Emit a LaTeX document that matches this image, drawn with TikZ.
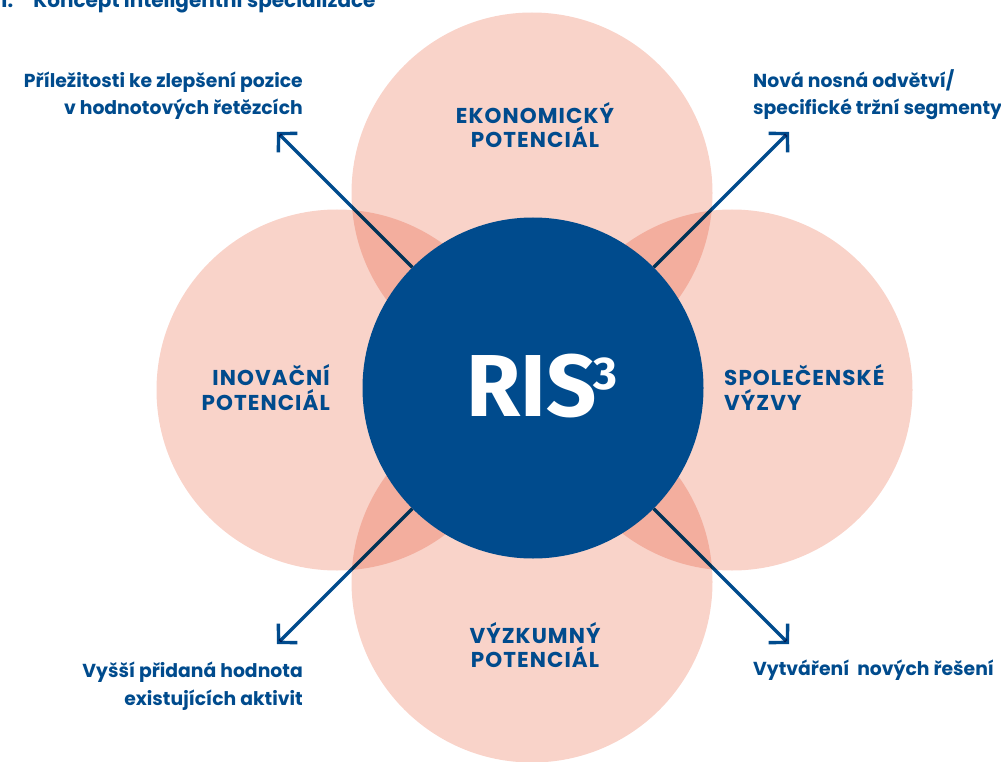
\documentclass[tikz,border=0pt]{standalone}
\usepackage{fontspec}
\setmainfont{Poppins}
\newfontfamily\risfont{Fira Sans}
\usetikzlibrary{arrows.meta}
\definecolor{navy}{HTML}{004B8D}
\definecolor{pinkc}{HTML}{F9D3C9}
\begin{document}
\begin{tikzpicture}[x=1pt,y=-1pt,
  petal/.style={circle, fill=pinkc, minimum size=361pt, inner sep=0pt},
  lbl/.style={text=navy, font=\bfseries\fontsize{18.8}{27}\selectfont, inner sep=0pt},
  caplbl/.style={text=navy, font=\bfseries\fontsize{21.5}{24}\selectfont\addfontfeature{LetterSpace=5}, inner sep=0pt},
  arrowline/.style={draw=navy, line width=3.4pt,
    -{Straight Barb[length=13pt, width=27pt, sharp]}}]
\useasboundingbox (0,0) rectangle (1001,762);
% title (cut by the page top)
\node[lbl, font=\bfseries\fontsize{20}{24}\selectfont, anchor=base west] (title) at (0,8) {1.\hspace{20pt}Koncept inteligentní specializace};
% petals
\begin{scope}[blend mode=multiply]
\node[petal] (top) at (532,193) {};
\node[petal] (bottom) at (532,582) {};
\node[petal] (left) at (337,390) {};
\node[petal] (right) at (732,390) {};
\end{scope}
% centre
\node[circle, fill=navy, minimum size=341pt, inner sep=0pt] (ris) at (533,388) {};
\node[text=white, inner sep=0pt, anchor=base west,
  font=\risfont\bfseries\fontsize{88}{88}\selectfont] (ristext) at (466,416)
  {RIS\hspace{-3pt}\raisebox{27pt}{\fontsize{46}{46}\selectfont 3}};
% arrow tips
\coordinate (tl) at (277,132);
\coordinate (tr) at (789,132);
\coordinate (bl) at (277,644);
\coordinate (br) at (789,644);
\begin{scope}[blend mode=multiply]
\draw[arrowline] (ris.135) -- (tl);
\draw[arrowline] (ris.45) -- (tr);
\draw[arrowline] (ris.225) -- (bl);
\draw[arrowline] (ris.315) -- (br);
\end{scope}
% petal labels
\node[caplbl, anchor=base] (ek1) at (535,124) {EKONOMICKÝ};
\node[caplbl, anchor=base] (ek2) at (535,148) {POTENCIÁL};
\node[caplbl, anchor=base east] (in1) at (330,385) {INOVAČNÍ};
\node[caplbl, anchor=base east] (in2) at (330,410) {POTENCIÁL};
\node[caplbl, anchor=base west] (sp1) at (724,385) {SPOLEČENSKÉ};
\node[caplbl, anchor=base west] (sp2) at (724,410) {VÝZVY};
\node[caplbl, anchor=base] (vy1) at (535,643) {VÝZKUMNÝ};
\node[caplbl, anchor=base] (vy2) at (535,667) {POTENCIÁL};
% outer labels
\node[lbl, anchor=base east] (tla) at (303,88) {Příležitosti ke zlepšení pozice};
\node[lbl, anchor=base east] (tlb) at (303,115) {v hodnotových řetězcích};
\node[lbl, anchor=base west] (tra) at (753,88) {Nová nosná odvětví/};
\node[lbl, anchor=base west] (trb) at (753,115) {specifické tržní segmenty};
\node[lbl, anchor=base east] (bla) at (303,677) {Vyšší přidaná hodnota};
\node[lbl, anchor=base east] (blb) at (303,705) {existujících aktivit};
\node[lbl, anchor=base west] (bra) at (753,675) {Vytváření\ \ nových řešení};
\end{tikzpicture}
\end{document}
